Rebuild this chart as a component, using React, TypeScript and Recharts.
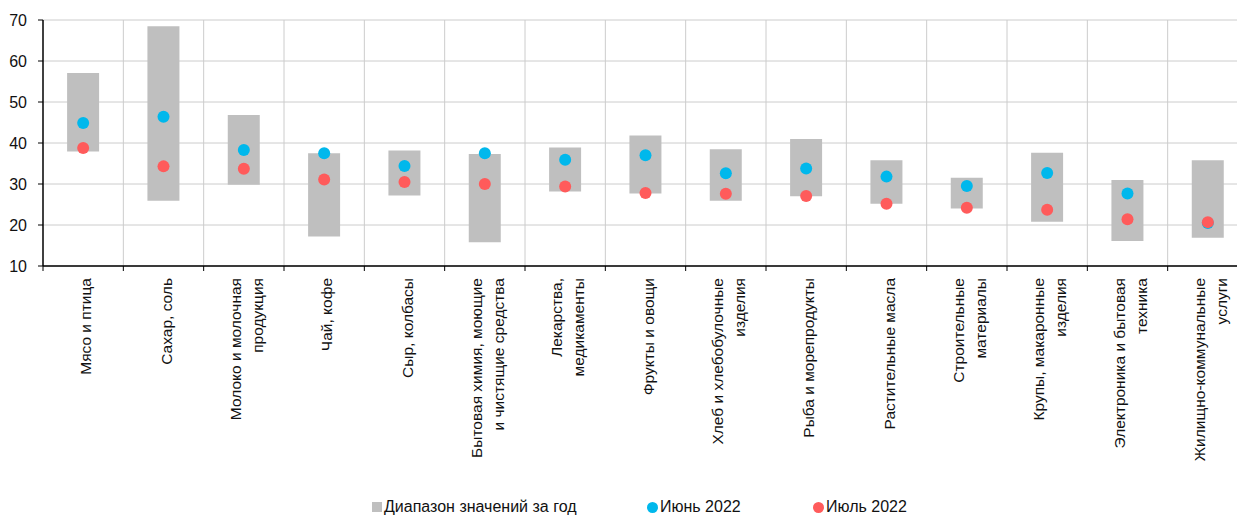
import { ComposedChart, Bar, Line, XAxis, YAxis, CartesianGrid, Legend } from 'recharts';

// подписи категорий (по строкам, как в исходнике)
const categoryLines: string[][] = [
  ['Мясо и птица'],
  ['Сахар, соль'],
  ['Молоко и молочная', 'продукция'],
  ['Чай, кофе'],
  ['Сыр, колбасы'],
  ['Бытовая химия, моющие', 'и чистящие средства'],
  ['Лекарства,', 'медикаменты'],
  ['Фрукты и овощи'],
  ['Хлеб и хлебобулочные', 'изделия'],
  ['Рыба и морепродукты'],
  ['Растительные масла'],
  ['Строительные', 'материалы'],
  ['Крупы, макаронные', 'изделия'],
  ['Электроника и бытовая', 'техника'],
  ['Жилищно-коммунальные', 'услуги'],
];

const rangeMin = [37.9, 25.9, 29.8, 17.2, 27.2, 15.8, 28.2, 27.7, 25.9, 27.0, 25.2, 24.0, 20.8, 16.1, 16.9];
const rangeMax = [57.1, 68.5, 46.8, 37.5, 38.2, 37.3, 38.9, 41.8, 38.5, 41.0, 35.8, 31.5, 37.6, 31.0, 35.8];
const june2022 = [44.9, 46.4, 38.3, 37.5, 34.4, 37.5, 35.9, 37.0, 32.6, 33.8, 31.8, 29.5, 32.7, 27.7, 20.5];
const july2022 = [38.8, 34.3, 33.7, 31.1, 30.5, 30.0, 29.4, 27.8, 27.6, 27.1, 25.2, 24.2, 23.7, 21.4, 20.7];

const yTicks = [10, 20, 30, 40, 50, 60, 70];

const GRAY = '#bfbfbf';
const BLUE = '#00b8ec';
const RED = '#ff5b5b';
const GRID = '#cccccc';
const FONT = '"Liberation Sans", Arial, sans-serif';

const WIDTH = 1250;
const HEIGHT = 518;
const MARGIN = { top: 20, right: 2, bottom: 0, left: 0 };
const Y_AXIS_W = 43;
const PLOT_W = WIDTH - MARGIN.left - MARGIN.right - Y_AXIS_W;
const BAND = PLOT_W / categoryLines.length;
const LEGEND_H = 22;
const X_AXIS_H = 230;

const data = categoryLines.map((lines, i) => ({
  name: lines.join(' '),
  range: [rangeMin[i], rangeMax[i]],
  june: june2022[i],
  july: july2022[i],
}));

function CategoryTick(props: any) {
  const { x, y, index } = props;
  const lines = categoryLines[index] || [];
  const lineH = 22;
  const first = 8 - ((lines.length - 1) * lineH) / 2;
  const isLast = index === categoryLines.length - 1;
  return (
    <g>
      {/* засечки на границах категорий, как в Excel */}
      <line x1={x - BAND / 2} x2={x - BAND / 2} y1={y} y2={y + 5} stroke="#000" />
      {isLast && <line x1={x + BAND / 2} x2={x + BAND / 2} y1={y} y2={y + 5} stroke="#000" />}
      <g transform={`translate(${x},${y + 12})`}>
        <text
          transform="rotate(-90)"
          textAnchor="end"
          fontSize={15.5}
          fontFamily={FONT}
          fill="#111"
        >
          {lines.map((line, i) => (
            <tspan key={i} x={0} y={first + i * lineH}>
              {line}
            </tspan>
          ))}
        </text>
      </g>
    </g>
  );
}

function ChartLegend() {
  const items = [
    { label: 'Диапазон значений за год', color: GRAY, shape: 'square', width: 275 },
    { label: 'Июнь 2022', color: BLUE, shape: 'circle', width: 166 },
    { label: 'Июль 2022', color: RED, shape: 'circle', width: 130 },
  ];
  return (
    <div
      style={{
        display: 'flex',
        alignItems: 'center',
        height: LEGEND_H,
        paddingLeft: 372,
        fontFamily: FONT,
        fontSize: 16,
        color: '#111',
        width: WIDTH - 372,
      }}
    >
      {items.map((it) => (
        <div key={it.label} style={{ display: 'flex', alignItems: 'center', width: it.width }}>
          <span
            style={{
              display: 'inline-block',
              width: it.shape === 'square' ? 10 : 11,
              height: it.shape === 'square' ? 10 : 11,
              borderRadius: it.shape === 'square' ? 0 : '50%',
              background: it.color,
              marginRight: 2,
            }}
          />
          <span>{it.label}</span>
        </div>
      ))}
    </div>
  );
}

export default function App() {
  return (
    <div
      style={{
        position: 'fixed',
        left: 0,
        top: 0,
        width: 1237,
        height: 518,
        overflow: 'hidden',
        background: '#fff',
      }}
    >
      <ComposedChart width={WIDTH} height={HEIGHT} data={data} margin={MARGIN} barCategoryGap="30%">
        <CartesianGrid
          stroke={GRID}
          verticalCoordinatesGenerator={({ offset }: any) =>
            categoryLines.map((_, i) => offset.left + ((i + 1) * offset.width) / categoryLines.length)
          }
        />
        <XAxis
          dataKey="name"
          interval={0}
          height={X_AXIS_H}
          tickSize={0}
          tickMargin={0}
          tickLine={false}
          axisLine={{ stroke: '#000', strokeWidth: 1.5 }}
          tick={<CategoryTick />}
        />
        <YAxis
          width={Y_AXIS_W}
          domain={[10, 70]}
          ticks={yTicks}
          interval={0}
          allowDataOverflow
          tickSize={5}
          tickMargin={11}
          axisLine={{ stroke: '#000', strokeWidth: 1.5 }}
          tickLine={{ stroke: '#000' }}
          tick={{ fontSize: 16, fontFamily: FONT, fill: '#111' }}
        />
        <Legend verticalAlign="bottom" align="left" wrapperStyle={{ left: 0 }} content={() => <ChartLegend />} />
        <Bar dataKey="range" fill={GRAY} isAnimationActive={false} name="Диапазон значений за год" />
        <Line
          dataKey="june"
          stroke="none"
          strokeWidth={0}
          dot={{ r: 6, fill: BLUE, stroke: 'none' }}
          activeDot={false}
          isAnimationActive={false}
          name="Июнь 2022"
        />
        <Line
          dataKey="july"
          stroke="none"
          strokeWidth={0}
          dot={{ r: 6, fill: RED, stroke: 'none' }}
          activeDot={false}
          isAnimationActive={false}
          name="Июль 2022"
        />
      </ComposedChart>
    </div>
  );
}
